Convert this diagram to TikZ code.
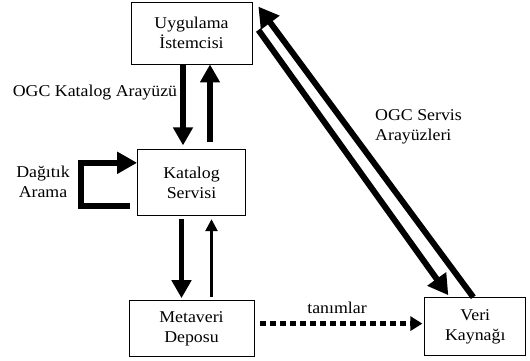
\documentclass[tikz,border=0pt]{standalone}
\usepackage{fontspec}
\setmainfont{Liberation Serif}[FakeStretch=1.08]
\usepackage{tikz}
\usetikzlibrary{arrows.meta,positioning}

\begin{document}
\begin{tikzpicture}[x=1pt,y=1pt,
      box/.style={draw, line width=0.8pt, align=center, inner sep=0pt,
                  font=\fontsize{16.5}{20}\selectfont},
      lbl/.style={align=center, inner sep=0pt,
                  font=\fontsize{16.5}{20}\selectfont},
      thk/.style={line width=5.5pt, -{Triangle[length=18pt,width=19pt]}},
      thn/.style={line width=2.6pt, -{Triangle[length=12pt,width=12pt]}},
      diag/.style={line width=6pt, -{Triangle[length=20pt,width=22pt]}},
      loopar/.style={line width=6pt, line join=miter,
                     -{Triangle[length=20pt,width=21pt]}},
      dotar/.style={line width=4.5pt, dash pattern=on 6pt off 4pt,
                    -{Triangle[length=12pt,width=14pt]}}
  ]
    \useasboundingbox (0,0) rectangle (530,360);
    \node[box, minimum width=121pt, minimum height=62pt] (uyg) at (191.5,327)
        {Uygulama\\İstemcisi};
    \node[box, minimum width=108pt, minimum height=66pt, below=85pt of uyg] (kat)
        {Katalog\\Servisi};
    \node[box, minimum width=125pt, minimum height=56pt, below=84pt of kat] (meta)
        {Metaveri\\Deposu};
    \node[box, minimum width=101pt, minimum height=58pt, right=170pt of meta,
          yshift=2pt] (veri) {Veri\\Kaynağı};

    % etiketler
    \node[lbl] (ogckat) at (95,267) {OGC Katalog Arayüzü};
    \node[lbl, anchor=west, align=left] (ogcsrv) at (375,233)
        {OGC Servis\\Arayüzleri};
    \node[lbl] (dagitik) at (43,178) {Dağıtık\\Arama};
    \node[lbl] (tanim) at (337,52) {tanımlar};

    \draw[thk, shorten >=4pt] ([xshift=-8.5pt]uyg.south)
        -- ([xshift=-8.5pt]uyg.south |- kat.north);
    \draw[thk, shorten <=7pt] ([xshift=18.5pt]uyg.south |- kat.north)
        -- ([xshift=18.5pt]uyg.south);
    \draw[thk, shorten <=3pt, shorten >=2pt] ([xshift=-10pt]kat.south)
        -- ([xshift=-10pt]kat.south |- meta.north);
    \draw[thn, shorten <=3pt, shorten >=3pt] ([xshift=20pt]kat.south |- meta.north)
        -- ([xshift=20pt]kat.south);
    \draw[loopar] ([xshift=-7pt,yshift=-23pt]kat.west) -- ++(-49,0)
        |- ([yshift=20pt]kat.west);
    \draw[diag] ([xshift=6pt,yshift=3pt]uyg.east)
        -- ([xshift=-27pt,yshift=2pt]veri.north);
    \draw[diag] ([xshift=-2pt]veri.north)
        -- ([xshift=6pt,yshift=-5pt]uyg.north east);
    \draw[dotar] ([xshift=6pt,yshift=5pt]meta.east)
        -- ([xshift=-2pt,yshift=3pt]veri.west);
  \end{tikzpicture}
\end{document}
